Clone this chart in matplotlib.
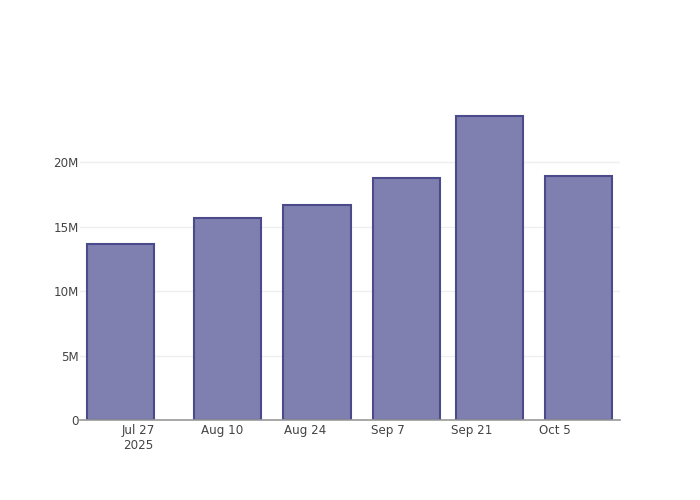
import numpy as np
import pandas as pd
import matplotlib.pyplot as plt
import matplotlib.dates as mdates
from matplotlib.ticker import FuncFormatter

# dane
dates = ["2025-07-24", "2025-08-11", "2025-08-26", "2025-09-10", "2025-09-24", "2025-10-09"]
values = [13.65e6, 15.65e6, 16.65e6, 18.75e6, 23.6e6, 18.92e6]
tick_dates = ["2025-07-27", "2025-08-10", "2025-08-24", "2025-09-07", "2025-09-21", "2025-10-05"]
tick_labels = ["Jul 27\n2025", "Aug 10", "Aug 24", "Sep 7", "Sep 21", "Oct 5"]

x = mdates.date2num(pd.to_datetime(dates))
ticks = mdates.date2num(pd.to_datetime(tick_dates))

fig = plt.figure(figsize=(7, 5), dpi=100)
ax = fig.add_axes([80 / 700, 80 / 500, 540 / 700, 320 / 500])

ax.bar(x, values, width=11.3, color='#7f7fb0', edgecolor='#4b4b8c', linewidth=1.5, zorder=3)

ax.set_xlim(ticks[0] - 9.86, ticks[0] + 80.96)
ax.set_ylim(0, 24.83e6)

ax.set_xticks(ticks)
ax.set_xticklabels(tick_labels)
ax.set_yticks([0, 5e6, 10e6, 15e6, 20e6])
ax.yaxis.set_major_formatter(FuncFormatter(lambda v, p: "0" if v == 0 else f"{v / 1e6:.0f}M"))

ax.grid(axis='y', color='#eeeeee', linewidth=1, zorder=0)
for s in ['top', 'right', 'left']:
    ax.spines[s].set_visible(False)
ax.spines['bottom'].set_color('#999999')
ax.spines['bottom'].set_linewidth(1.2)
ax.spines['bottom'].set_zorder(4)
ax.tick_params(axis='both', length=0, labelsize=8.6, labelcolor='#444444')
ax.tick_params(axis='y', pad=1)
ax.tick_params(axis='x', pad=3)

fig.savefig('out.png', dpi=100)
